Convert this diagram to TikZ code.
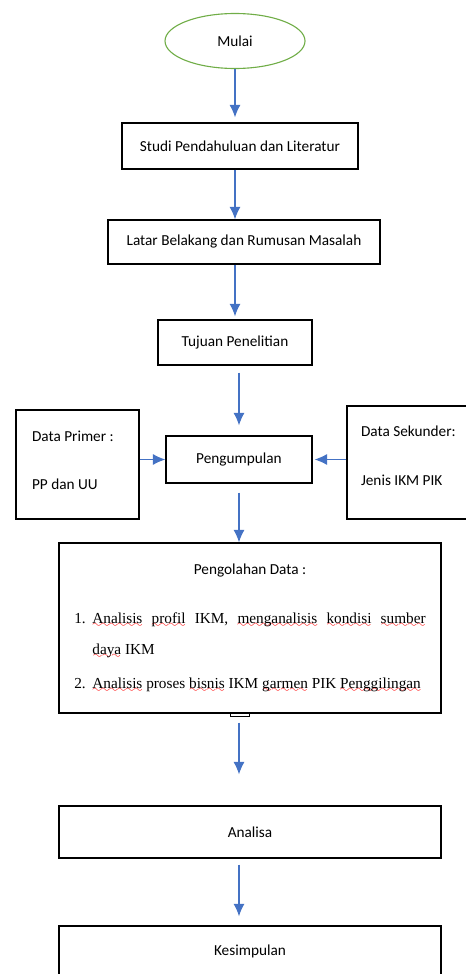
\documentclass[tikz,border=0pt]{standalone}
\usepackage{fontspec}
\setmainfont{Carlito}
\newfontfamily\timesfont{Liberation Serif}
\usetikzlibrary{shapes,arrows.meta,positioning}
\definecolor{flowblue}{RGB}{68,114,196}
\definecolor{startgreen}{RGB}{112,173,71}
\font\wavefont=lasy8
\tikzstyle{start} = [ellipse, draw=startgreen, line width=0.8pt, inner sep=0pt, minimum width=100.8pt, minimum height=39.6pt, font=\fontsize{11}{13}\selectfont]
\tikzstyle{stage} = [rectangle, draw, line width=1pt, text centered, font=\fontsize{11}{13}\selectfont]
\tikzstyle{data} = [rectangle, draw, line width=1pt, align=flush left, font=\fontsize{11}{13}\selectfont]
\tikzstyle{line} = [draw=flowblue, line width=0.8pt, -{Latex[length=9pt,width=8pt]}]
\newcommand{\wavy}[1]{\setbox0\hbox{#1}\rlap{\raisebox{-3.2pt}[0pt][0pt]{\textcolor{red}{\hbox to \wd0{\xleaders\hbox{\wavefont\char58}\hfil}}}}\box0\relax}
\newcommand{\numitem}[1]{\hangindent=13pt\hangafter=1\noindent\makebox[13pt][l]{#1}}

\begin{document}
\begin{tikzpicture}[x=0.72pt, y=-0.72pt]
\useasboundingbox (0,0) rectangle (465,974);
% Alur Penelitian
	%	Mulai sampai Tujuan
    \node [start] (mulai) at (235,41) {Mulai};
    \node [stage, minimum width=169.9pt, minimum height=33.1pt] (studi) at (240,146) {Studi Pendahuluan dan Literatur};
    \node [stage, minimum width=195.8pt, minimum height=31.7pt] (latar) at (244,242) {Latar Belakang dan Rumusan Masalah};
    \node [stage, minimum width=110.9pt, minimum height=32.4pt] (tujuan) at (235,342.5) {Tujuan Penelitian};
	%	Pengumpulan Data
    \node [stage, minimum width=105.1pt, minimum height=33.8pt] (peng) at (239,459.5) {Pengumpulan};
    \node [data, text width=65.5pt, inner xsep=11.5pt, minimum height=78.5pt] (primer) at (77.5,464.5) {Data Primer :\\[21.9pt]PP dan UU\\[-7pt]\mbox{}};
    \node [data, text width=75.6pt, inner xsep=10pt, minimum height=81.4pt] (sekunder) at (413.5,462.5) {Data Sekunder:\\[22.5pt]Jenis IKM PIK\\[-3pt]\mbox{}};
	%	Pengolahan sampai Kesimpulan
    \node [stage, text width=253pt, inner xsep=11pt, minimum height=122.4pt, align=justify] (olah) at (250,628) {%
      {\centering Pengolahan Data :\par}\vspace{12.4pt}%
      {\timesfont\fontsize{11}{22.5}\selectfont\hyphenpenalty=10000
      \numitem{1.}\wavy{Analisis} \wavy{profil} IKM, \wavy{menganalisis} \wavy{kondisi} \wavy{sumber}\linebreak \wavy{daya} IKM\par\vspace{2pt}
      \numitem{2.}\wavy{Analisis} proses \wavy{bisnis} IKM \wavy{garmen} PIK \wavy{Penggilingan}\par}};
    \draw [line width=0.6pt] ([xshift=-14.4pt]olah.south) -- ++(0,3) -- ++(19,0) -- ++(0,-3);
    \node [stage, minimum width=275pt, minimum height=37.4pt] (analisa) at (250,832) {Analisa};
    \node [stage, minimum width=275pt, minimum height=36pt] (kesimpulan) at (250,951) {Kesimpulan};

    \path [line, shorten >=3.6pt] (mulai.south) -- (mulai.south |- studi.north);
    \path [line] (studi.south -| mulai) -- (latar.north -| mulai);
    \path [line, shorten >=2.2pt] (latar.south -| mulai) -- (tujuan.north -| mulai);
    \path [line, shorten <=5pt, shorten >=7.2pt] (tujuan.south -| peng) -- (peng.north);
    \path [line] (primer.east |- peng) -- (peng.west);
    \path [line, shorten >=1.4pt] (sekunder.west |- peng) -- (peng.east);
    \path [line, shorten <=6.5pt] (peng.south) -- (olah.north -| peng);
    \path [line, shorten <=6.5pt, shorten >=22.3pt] (olah.south -| peng) -- (analisa.north -| peng);
    \path [line, shorten <=4.3pt, shorten >=6.5pt] (analisa.south -| peng) -- (kesimpulan.north -| peng);
\end{tikzpicture}
\end{document}
